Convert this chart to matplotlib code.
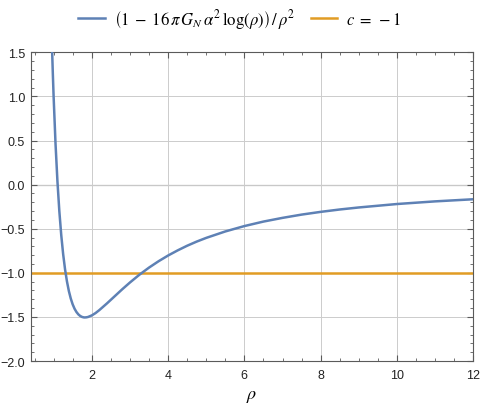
import matplotlib
matplotlib.use("Agg")
import matplotlib.pyplot as plt
from matplotlib.ticker import MultipleLocator

plt.rcParams["font.family"] = ["Liberation Sans", "DejaVu Sans"]
plt.rcParams["mathtext.fontset"] = "stix"

# curve values
rho = [0.96, 0.98, 1.00, 1.05, 1.10, 1.15, 1.20, 1.25, 1.30, 1.35, 1.40, 1.45,
       1.50, 1.55, 1.60, 1.65, 1.70, 1.75, 1.80, 1.85, 1.90, 2.00, 2.10, 2.20,
       2.40, 2.60, 2.80, 3.00, 3.25, 3.50, 3.75, 4.00, 4.25, 4.50, 4.75, 5.00,
       5.50, 6.00, 6.50, 7.00, 7.50, 8.00, 8.50, 9.00, 10.0, 11.0, 12.0]
f_rho = [1.528, 1.252, 1.000, 0.465, 0.039, -0.301, -0.572, -0.788, -0.961,
         -1.098, -1.207, -1.292, -1.358, -1.408, -1.445, -1.472, -1.490, -1.501,
         -1.506, -1.505, -1.501, -1.483, -1.456, -1.422, -1.346, -1.266, -1.186,
         -1.110, -1.021, -0.941, -0.869, -0.804, -0.746, -0.693, -0.646, -0.604,
         -0.531, -0.470, -0.419, -0.377, -0.340, -0.309, -0.282, -0.259, -0.220,
         -0.190, -0.166]
c_value = -1

blue = "#5E81B5"
orange = "#E19C24"
frame = "#5a5a5a"

fig = plt.figure(figsize=(4.8, 4.1), dpi=100)
ax = fig.add_axes([0.064, 0.117, 0.922, 0.753])

ax.grid(True, which="major", color="#cccccc", lw=0.7, zorder=0)
ax.axhline(0, color="#555555", lw=0.8, zorder=1)
ax.plot(rho, f_rho, color=blue, lw=1.8, zorder=3,
        label=r"$\left(1\;-\;16\,\pi\,G_N\,\alpha^2\,\log(\rho)\right)\,/\,\rho^2$")
ax.axhline(c_value, color=orange, lw=1.8, zorder=2, label=r"$c\;=\;-1$")

ax.set_xlim(0.4, 12)
ax.set_ylim(-2.0, 1.5)
ax.xaxis.set_major_locator(MultipleLocator(2))
ax.xaxis.set_minor_locator(MultipleLocator(0.5))
ax.yaxis.set_major_locator(MultipleLocator(0.5))
ax.yaxis.set_minor_locator(MultipleLocator(0.1))
ax.tick_params(which="both", direction="in", top=True, right=True,
               color=frame, labelsize=9, labelcolor="#222222")
ax.tick_params(which="major", length=4.5, width=0.8)
ax.tick_params(which="minor", length=2.5, width=0.6)
ax.tick_params(axis="y", pad=4)
ax.tick_params(axis="x", pad=6)
ax.set_yticks([1.5, 1.0, 0.5, 0.0, -0.5, -1.0, -1.5, -2.0])
ax.set_yticklabels(["1.5", "1.0", "0.5", "0.0", "\u22120.5", "\u22121.0", "\u22121.5", "\u22122.0"])
for s in ax.spines.values():
    s.set_color(frame)
    s.set_linewidth(0.8)

ax.set_xlabel(r"$\rho$", fontsize=13, labelpad=4)

h, l = ax.get_legend_handles_labels()
fig.legend(h, l, loc="center", bbox_to_anchor=(0.5, 0.952), ncol=2,
           frameon=False, fontsize=12, handlelength=1.6, handletextpad=0.55,
           columnspacing=0.9)

fig.savefig("out.png", dpi=100)
